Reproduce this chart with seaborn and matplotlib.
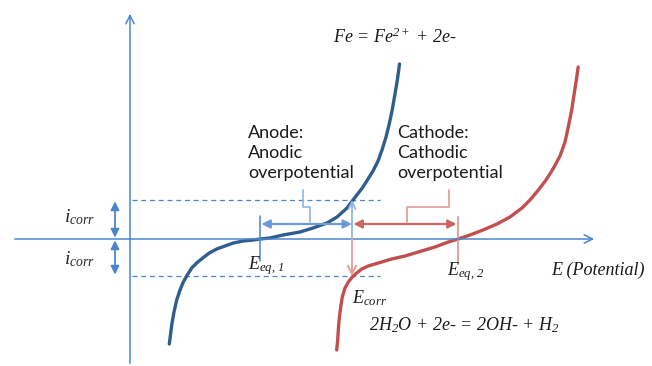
import matplotlib
matplotlib.use("Agg")
import matplotlib.pyplot as plt
import seaborn as sns
import pandas as pd

# ======== DATA (potential E vs current i, schematic units) ========
anode_E = [169.3, 170.7, 172, 174, 176.7, 180, 183.3, 187.3, 191.7, 196.7, 202.7,
           209.3, 216.7, 225, 233.3, 243.3, 253.3, 260, 270, 283, 300, 313, 327,
           337, 347, 353, 363, 373, 378, 382, 386, 389, 392, 395, 397.5, 399.5]
anode_i = [-105, -94, -84, -73, -61, -51, -43, -36, -29, -24, -19,
           -14, -10, -7, -4, -2, -1, 0, 1, 4, 7, 11, 16,
           22, 31, 39, 52, 68, 78, 89, 102, 114, 128, 145, 160, 175]

cathode_E = [336.7, 337.7, 338.3, 339.3, 340.7, 342.3, 345, 348.3, 352.3, 356.7,
             361.7, 368.3, 378.3, 391.7, 405, 418.3, 435, 448.3, 458, 470, 483,
             497, 510, 522, 530, 538, 546, 553, 560, 565, 568.3, 571.7, 574.3,
             576.5, 578.2]
cathode_i = [-111, -101, -91, -79, -68, -58, -49, -43, -38, -34,
             -30, -27, -24, -20, -17, -13, -8, -3, 0, 4, 9,
             15, 22, 31, 39, 48.5, 59, 70, 83, 97, 112, 129, 146,
             160, 172]

E_eq1 = 260
E_eq2 = 458
E_corr = 352
i_corr_a = 39     # anodic current at E_corr
i_corr_c = -37    # cathodic current at E_corr
# ==================================================================

sns.set_style("white")
plt.rcParams["mathtext.fontset"] = "custom"
plt.rcParams["mathtext.it"] = "Liberation Serif:italic"
plt.rcParams["mathtext.rm"] = "Liberation Serif:italic"

AX_BLUE = "#4a86cf"
DARK_BLUE = "#2f5d8e"
RED = "#c0504d"
LIGHT_BLUE = "#8fb4e3"
LIGHT_RED = "#e39a98"

fig = plt.figure(figsize=(6.52, 3.66), dpi=100)
ax = fig.add_axes([0, 0, 1, 1])
ax.set_xlim(0, 652)
ax.set_ylim(-127, 239)
ax.axis("off")

# axes with open arrow heads
ax.annotate("", xy=(597, 0), xytext=(12, 0),
            arrowprops=dict(arrowstyle="->,head_length=0.6,head_width=0.3", color=AX_BLUE, lw=1.1))
ax.annotate("", xy=(130, 228), xytext=(130, -127),
            arrowprops=dict(arrowstyle="->,head_length=0.6,head_width=0.3", color=AX_BLUE, lw=1.1))

# dashed i_corr levels
for lvl in (i_corr_a, i_corr_c):
    ax.plot([132, 380], [lvl, lvl], ls=(0, (4, 3)), color=AX_BLUE, lw=0.9)

# polarisation curves
df_a = pd.DataFrame({"E": anode_E, "i": anode_i})
df_c = pd.DataFrame({"E": cathode_E, "i": cathode_i})
sns.lineplot(data=df_a, x="E", y="i", sort=False, estimator=None, color=DARK_BLUE,
             lw=2.4, solid_joinstyle="round", ax=ax)
sns.lineplot(data=df_c, x="E", y="i", sort=False, estimator=None, color=RED,
             lw=2.4, solid_joinstyle="round", ax=ax)

# i_corr double arrows
for lo, hi in ((0, i_corr_a), (0, i_corr_c)):
    ax.annotate("", xy=(115, hi), xytext=(115, lo),
                arrowprops=dict(arrowstyle="<|-|>,head_length=0.5,head_width=0.25",
                                color=AX_BLUE, lw=1.3, shrinkA=1, shrinkB=1))
ax.text(64, 22, "$i_{corr}$", fontsize=14, ha="left", va="center")
ax.text(64, -20, "$i_{corr}$", fontsize=14, ha="left", va="center")

# equilibrium ticks
ax.plot([E_eq1, E_eq1], [23, -22], color=AX_BLUE, lw=1.1)
ax.plot([E_eq2, E_eq2], [22, -24], color=LIGHT_RED, lw=1.3)

# E_corr vertical arrows
ax.annotate("", xy=(E_corr, i_corr_a), xytext=(E_corr, 0),
            arrowprops=dict(arrowstyle="->,head_length=0.5,head_width=0.25",
                            color=LIGHT_BLUE, lw=1.3, shrinkA=0, shrinkB=0))
ax.annotate("", xy=(E_corr, i_corr_c), xytext=(E_corr, 0),
            arrowprops=dict(arrowstyle="->,head_length=0.6,head_width=0.3",
                            color=LIGHT_RED, lw=1.3, shrinkA=0, shrinkB=0))

# overpotential arrows
ax.annotate("", xy=(E_eq1, 15), xytext=(E_corr, 15),
            arrowprops=dict(arrowstyle="<|-|>,head_length=0.5,head_width=0.25",
                            color="#6b9bd8", lw=1.6, shrinkA=0, shrinkB=1))
ax.annotate("", xy=(E_eq2, 15), xytext=(E_corr, 15),
            arrowprops=dict(arrowstyle="<|-|>,head_length=0.5,head_width=0.25",
                            color="#cd6563", lw=1.6, shrinkA=1, shrinkB=1))

# bracket leaders
ax.plot([310, 310, 303, 303], [17, 32, 32, 49], color=LIGHT_BLUE, lw=1.2)
ax.plot([407, 407, 449, 449], [17, 32, 32, 49], color=LIGHT_RED, lw=1.2)

# labels
sans = dict(family="Lato", fontsize=13, color="#1a1a1a", ha="left", va="top", linespacing=1.3)
ax.text(248, 114, "Anode:\nAnodic\noverpotential", **sans)
ax.text(397, 114, "Cathode:\nCathodic\noverpotential", **sans)

serif = dict(family="Liberation Serif", style="italic", fontsize=13, color="#1a1a1a",
             ha="left", va="center")
ax.text(333, 202, "Fe = Fe$^{2+}$ + 2e-", **serif)
ax.text(551, -31, "E (Potential)", **serif)
ax.text(369, -86, "2H$_2$O + 2e- = 2OH- + H$_2$", **serif)
ax.text(248, -27, "$E_{eq,\\,1}$", **serif)
ax.text(447, -33, "$E_{eq,\\,2}$", **serif)
ax.text(352, -59, "$E_{corr}$", **serif)

fig.savefig("out.png", dpi=100)
